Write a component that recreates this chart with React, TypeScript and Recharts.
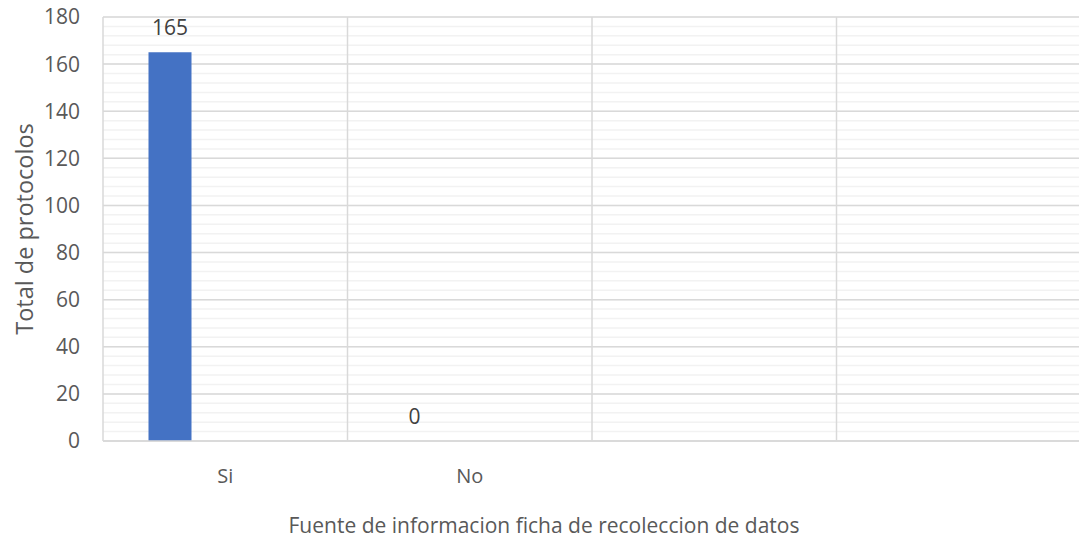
import React from 'react';
import { BarChart, Bar, XAxis, YAxis, CartesianGrid, LabelList, Label } from 'recharts';

const categories = ['Si', 'No', '', ''];
const totalProtocolos = [165, 0, null, null];
const emptySeries = [null, null, null, null];
const yTicks = [0, 20, 40, 60, 80, 100, 120, 140, 160, 180];
const minorTicks = [0, 4, 8, 12, 16, 20, 24, 28, 32, 36, 40, 44, 48, 52, 56, 60, 64, 68, 72, 76, 80, 84, 88, 92, 96, 100,
  104, 108, 112, 116, 120, 124, 128, 132, 136, 140, 144, 148, 152, 156, 160, 164, 168, 172, 176, 180];

const data = categories.map((name, i) => ({
  name,
  total: totalProtocolos[i],
  extra: emptySeries[i],
}));

const FONT = '"Open Sans", sans-serif';
const Y_MAX = yTicks[yTicks.length - 1];

const App: React.FC = () => {
  // vertical lines sit on category boundaries, not on centres
  const boundaries = ({ offset }: any) =>
    categories.map((_, i) => offset.left + (i * offset.width) / categories.length);
  const rows = (values: number[]) => ({ offset }: any) =>
    values.map(v => offset.top + offset.height * (1 - v / Y_MAX));

  return (
    <div style={{ position: 'absolute', left: 0, top: 0, width: 1079, height: 539, overflow: 'hidden', background: '#fff', fontFamily: FONT }}>
      <BarChart
        width={1090}
        height={539}
        data={data}
        margin={{ top: 17, right: 9, left: 0, bottom: 0 }}
        barCategoryGap={45.5}
        barGap={67.5}
      >
        <CartesianGrid horizontalCoordinatesGenerator={rows(minorTicks)} vertical={false} stroke="#F2F2F2" strokeWidth={1.5} />
        <CartesianGrid
          horizontalCoordinatesGenerator={rows(yTicks)}
          verticalCoordinatesGenerator={boundaries}
          stroke="#D9D9D9"
          strokeWidth={1.5}
        />
        <XAxis
          dataKey="name"
          height={98}
          tickLine={false}
          tickSize={0}
          tickMargin={28}
          axisLine={{ stroke: '#D9D9D9', strokeWidth: 1.5 }}
          tick={{ fill: '#595959', fontSize: 20, fontFamily: FONT }}
        >
          <Label
            value="Fuente de informacion ficha de recoleccion de datos"
            position="insideBottom"
            offset={6}
            dx={-48}
            style={{ fill: '#595959', fontSize: 21, fontFamily: FONT }}
          />
        </XAxis>
        <YAxis
          width={103}
          domain={[0, Y_MAX]}
          ticks={yTicks}
          tickLine={false}
          axisLine={false}
          tickSize={0}
          tickMargin={23}
          tick={{ fill: '#595959', fontSize: 21, fontFamily: FONT }}
        >
          <Label
            value="Total de protocolos"
            position="center"
            angle={-90}
            dx={-26.8}
            style={{ fill: '#595959', fontSize: 23.5, fontFamily: FONT, textAnchor: 'middle' }}
          />
        </YAxis>
        <Bar dataKey="total" fill="#4472C4" minPointSize={0.01} isAnimationActive={false}>
          <LabelList dataKey="total" position="top" offset={17} style={{ fill: '#404040', fontSize: 21, fontFamily: FONT }} />
        </Bar>
        <Bar dataKey="extra" fill="#ED7D31" isAnimationActive={false} />
      </BarChart>
    </div>
  );
};

export default App;
